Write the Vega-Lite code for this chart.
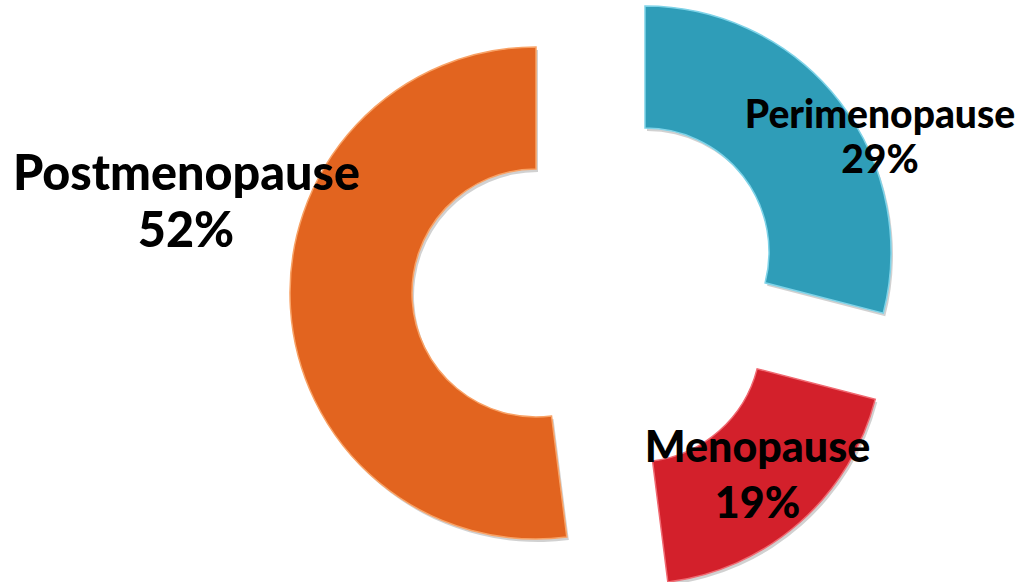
{
  "$schema": "https://vega.github.io/schema/vega-lite/v6.json",
  "width": 1021,
  "height": 582,
  "padding": 0,
  "autosize": {"type": "none"},
  "background": "white",
  "config": {"view": {"stroke": null}},
  "data": {
    "values": [
      {"stage": "Perimenopause", "pct": 0.29},
      {"stage": "Menopause", "pct": 0.19},
      {"stage": "Postmenopause", "pct": 0.52}
    ]
  },
  "transform": [{"stack": "pct", "groupby": [], "as": ["a0", "a1"]}],
  "layer": [
    {
      "transform": [{"filter": "datum.stage === 'Perimenopause'"}],
      "layer": [
        {
          "mark": {"type": "arc", "innerRadius": 124, "outerRadius": 246, "xOffset": 136.5, "yOffset": -36, "color": "#000000", "opacity": 0.18},
          "encoding": {
            "theta": {"field": "a0", "type": "quantitative", "scale": {"domain": [0, 1]}},
            "theta2": {"field": "a1"}
          }
        },
        {
          "mark": {"type": "arc", "innerRadius": 124, "outerRadius": 246, "xOffset": 134.5, "yOffset": -39, "stroke": "#7fd3e8", "strokeWidth": 1.5},
          "encoding": {
            "theta": {"field": "a0", "type": "quantitative", "scale": {"domain": [0, 1]}},
            "theta2": {"field": "a1"},
            "color": {"field": "stage", "type": "nominal", "legend": null, "scale": {"domain": ["Perimenopause", "Menopause", "Postmenopause"], "range": ["#2f9db8", "#d3202b", "#e2641f"]}}
          }
        },
        {
          "mark": {"type": "text", "font": "Lato", "fontWeight": 900, "fontSize": 39, "align": "center", "baseline": "alphabetic", "dx": 369.5, "dy": -163, "color": "black"},
          "encoding": {"text": {"field": "stage"}}
        },
        {
          "mark": {"type": "text", "font": "Lato", "fontWeight": 900, "fontSize": 39, "align": "center", "baseline": "alphabetic", "dx": 369.5, "dy": -118, "color": "black"},
          "encoding": {"text": {"field": "pct", "type": "quantitative", "format": ".0%"}}
        }
      ]
    },
    {
      "transform": [{"filter": "datum.stage === 'Menopause'"}],
      "layer": [
        {
          "mark": {"type": "arc", "innerRadius": 124, "outerRadius": 246, "xOffset": 128.5, "yOffset": 50, "color": "#000000", "opacity": 0.18},
          "encoding": {
            "theta": {"field": "a0", "type": "quantitative", "scale": {"domain": [0, 1]}},
            "theta2": {"field": "a1"}
          }
        },
        {
          "mark": {"type": "arc", "innerRadius": 124, "outerRadius": 246, "xOffset": 126.5, "yOffset": 47, "stroke": "#f06a72", "strokeWidth": 1.5},
          "encoding": {
            "theta": {"field": "a0", "type": "quantitative", "scale": {"domain": [0, 1]}},
            "theta2": {"field": "a1"},
            "color": {"field": "stage", "type": "nominal", "legend": null}
          }
        },
        {
          "mark": {"type": "text", "font": "Lato", "fontWeight": 900, "fontSize": 43, "align": "center", "baseline": "alphabetic", "dx": 247, "dy": 171, "color": "black"},
          "encoding": {"text": {"field": "stage"}}
        },
        {
          "mark": {"type": "text", "font": "Lato", "fontWeight": 900, "fontSize": 43, "align": "center", "baseline": "alphabetic", "dx": 247, "dy": 227, "color": "black"},
          "encoding": {"text": {"field": "pct", "type": "quantitative", "format": ".0%"}}
        }
      ]
    },
    {
      "transform": [{"filter": "datum.stage === 'Postmenopause'"}],
      "layer": [
        {
          "mark": {"type": "arc", "innerRadius": 124, "outerRadius": 246, "xOffset": 27.5, "yOffset": 5, "color": "#000000", "opacity": 0.18},
          "encoding": {
            "theta": {"field": "a0", "type": "quantitative", "scale": {"domain": [0, 1]}},
            "theta2": {"field": "a1"}
          }
        },
        {
          "mark": {"type": "arc", "innerRadius": 124, "outerRadius": 246, "xOffset": 25.5, "yOffset": 2, "stroke": "#f8a266", "strokeWidth": 1.5},
          "encoding": {
            "theta": {"field": "a0", "type": "quantitative", "scale": {"domain": [0, 1]}},
            "theta2": {"field": "a1"},
            "color": {"field": "stage", "type": "nominal", "legend": null}
          }
        },
        {
          "mark": {"type": "text", "font": "Lato", "fontWeight": 900, "fontSize": 48.5, "align": "center", "baseline": "alphabetic", "dx": -324, "dy": -101, "color": "black"},
          "encoding": {"text": {"field": "stage"}}
        },
        {
          "mark": {"type": "text", "font": "Lato", "fontWeight": 900, "fontSize": 48.5, "align": "center", "baseline": "alphabetic", "dx": -324.5, "dy": -44, "color": "black"},
          "encoding": {"text": {"field": "pct", "type": "quantitative", "format": ".0%"}}
        }
      ]
    }
  ]
}
